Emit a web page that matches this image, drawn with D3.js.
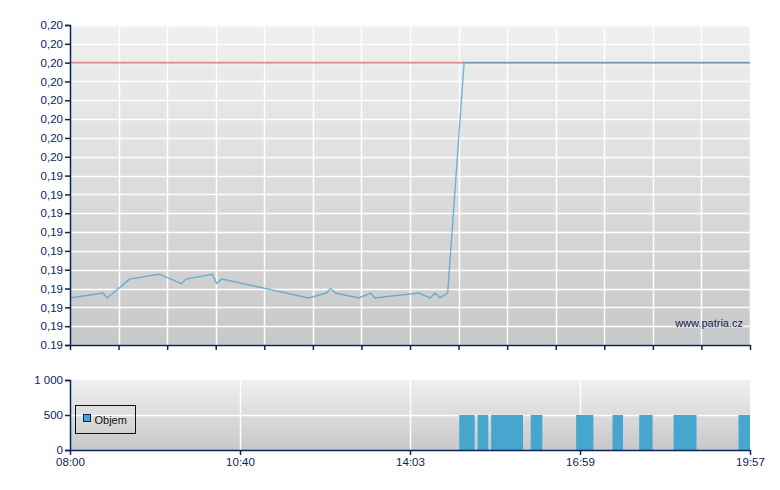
<!DOCTYPE html>
<html>
<head>
<meta charset="utf-8">
<script src="https://cdn.jsdelivr.net/npm/d3@7"></script>
<style>
  body { margin: 0; background: #fff; }
  text { font-family: "Liberation Sans", Arial, sans-serif; }
</style>
</head>
<body>
<svg id="chart" width="780" height="490"></svg>
<script>
// price series (time, value)
var priceTimes = ["08:00","08:31","08:35","08:56","09:24","09:45","09:49","10:14","10:18","10:23",
                  "12:02","12:23","12:28","12:34","13:02","13:16","13:21","14:12","14:24","14:29",
                  "14:34","14:42","14:59","19:57"];
var priceValues = [0.19125,0.19138,0.19125,0.19175,0.19188,0.19163,0.19175,0.19188,0.19163,0.19175,
                   0.19125,0.19138,0.1915,0.19138,0.19125,0.19138,0.19125,0.19138,0.19125,0.19138,
                   0.19125,0.19138,0.1975,0.1975];
var refPrice = 0.1975;

// volume bars (from, to, volume)
var volFrom   = ["14:54","15:13","15:27","16:08","16:55","17:33","18:01","18:37","19:45"];
var volTo     = ["15:10","15:24","16:00","16:20","17:13","17:44","18:15","19:01","19:57"];
var volValues = [500,500,500,500,500,500,500,500,500];

var timeTicks = ["08:00","10:40","14:03","16:59","19:57"];
var priceTicks = [0.19,0.1905,0.191,0.1915,0.192,0.1925,0.193,0.1935,0.194,
                  0.1945,0.195,0.1955,0.196,0.1965,0.197,0.1975,0.198,0.1985];
var priceTickLabels = ["0.19","0,19","0,19","0,19","0,19","0,19","0,19","0,19","0,19",
                       "0,19","0,20","0,20","0,20","0,20","0,20","0,20","0,20","0,20"];
var volTicks = [0, 500, 1000];
var volTickLabels = ["0", "500", "1 000"];

var axisColor = "#0b2457";
var svg = d3.select("#chart");

function toMin(s) {
    var p = s.split(":");
    return +p[0] * 60 + +p[1];
}

function styleAxis(g) {
    g.select(".domain").attr("stroke", axisColor).attr("stroke-width", 1.5);
    g.selectAll(".tick line").attr("stroke", axisColor).attr("stroke-width", 1.5);
    g.selectAll(".tick text").attr("fill", axisColor).style("font-size", "11.5px")
        .style("font-family", "'Liberation Sans', Arial, sans-serif");
}

var x0 = 70, x1 = 750;
var x = d3.scaleLinear()
    .domain(timeTicks.map(toMin))
    .range(timeTicks.map(function(d, i) { return x0 + i * (x1 - x0) / (timeTicks.length - 1); }));

// background gradient
var grad = svg.append("defs").append("linearGradient")
    .attr("id", "bg").attr("x1", 0).attr("y1", 0).attr("x2", 0).attr("y2", 1);
grad.append("stop").attr("offset", "0%").attr("stop-color", "#f0f0f0");
grad.append("stop").attr("offset", "100%").attr("stop-color", "#c8c8c8");

// ---------- price panel ----------
var pTop = { y0: 25, y1: 345 };
var y = d3.scaleLinear().domain([0.19, 0.1985]).range([pTop.y1, pTop.y0]);

var gTop = svg.append("g");
gTop.append("rect")
    .attr("x", x0).attr("y", pTop.y0)
    .attr("width", x1 - x0).attr("height", pTop.y1 - pTop.y0)
    .attr("fill", "url(#bg)");

var gridX = d3.scaleLinear().domain([0, 14]).range([x0, x1]);

gTop.append("g")
    .selectAll("line")
    .data(priceTicks)
    .join("line")
    .attr("x1", x0).attr("x2", x1)
    .attr("y1", function(d) { return Math.round(y(d)) + 0.5; })
    .attr("y2", function(d) { return Math.round(y(d)) + 0.5; })
    .attr("stroke", "#fff").attr("stroke-width", 1.5);

gTop.append("g")
    .selectAll("line")
    .data(d3.range(1, 15))
    .join("line")
    .attr("x1", function(d) { return Math.round(gridX(d)) + 0.5; })
    .attr("x2", function(d) { return Math.round(gridX(d)) + 0.5; })
    .attr("y1", pTop.y0).attr("y2", pTop.y1)
    .attr("stroke", "#fff").attr("stroke-width", 1.5);

// reference line
gTop.append("line")
    .attr("x1", x0).attr("x2", x1)
    .attr("y1", y(refPrice)).attr("y2", y(refPrice))
    .attr("stroke", "#d04040").attr("stroke-opacity", 0.55)
    .attr("stroke-width", 2);

var line = d3.line()
    .x(function(d, i) { return x(toMin(priceTimes[i])); })
    .y(function(d) { return y(d); });

gTop.append("path")
    .datum(priceValues)
    .attr("d", line)
    .attr("fill", "none")
    .attr("stroke", "#3a9fcf")
    .attr("stroke-opacity", 0.7)
    .attr("stroke-width", 1.4);

// axes
gTop.append("g")
    .attr("transform", "translate(" + x0 + ",0)")
    .call(d3.axisLeft(y)
        .tickValues(priceTicks)
        .tickFormat(function(d, i) { return priceTickLabels[i]; })
        .tickSize(5).tickPadding(2))
    .call(styleAxis);

gTop.append("g")
    .attr("transform", "translate(0," + pTop.y1 + ")")
    .call(d3.axisBottom(gridX)
        .tickValues(d3.range(15))
        .tickFormat("")
        .tickSize(5).tickSizeOuter(0))
    .call(styleAxis);

gTop.append("text")
    .attr("x", 743).attr("y", 327)
    .attr("text-anchor", "end")
    .attr("fill", axisColor)
    .style("font-size", "11px")
    .text("www.patria.cz");

// ---------- volume panel ----------
var pBot = { y0: 380, y1: 450 };
var yv = d3.scaleLinear().domain([0, 1000]).range([pBot.y1, pBot.y0]);

var gBot = svg.append("g");
gBot.append("rect")
    .attr("x", x0).attr("y", pBot.y0)
    .attr("width", x1 - x0).attr("height", pBot.y1 - pBot.y0)
    .attr("fill", "url(#bg)");

gBot.append("line")
    .attr("x1", x0).attr("x2", x1)
    .attr("y1", Math.round(yv(500)) + 0.5).attr("y2", Math.round(yv(500)) + 0.5)
    .attr("stroke", "#fff").attr("stroke-width", 1.5);

gBot.append("g")
    .selectAll("line")
    .data(timeTicks.slice(1, -1))
    .join("line")
    .attr("x1", function(d) { return Math.round(x(toMin(d))) + 0.5; })
    .attr("x2", function(d) { return Math.round(x(toMin(d))) + 0.5; })
    .attr("y1", pBot.y0).attr("y2", pBot.y1)
    .attr("stroke", "#fff").attr("stroke-width", 1.5);

gBot.append("g")
    .selectAll("rect")
    .data(volValues)
    .join("rect")
    .attr("x", function(d, i) { return x(toMin(volFrom[i])); })
    .attr("width", function(d, i) { return x(toMin(volTo[i])) - x(toMin(volFrom[i])); })
    .attr("y", function(d) { return yv(d); })
    .attr("height", function(d) { return yv(0) - yv(d); })
    .attr("fill", "#47a6ce");

gBot.append("g")
    .attr("transform", "translate(" + x0 + ",0)")
    .call(d3.axisLeft(yv)
        .tickValues(volTicks)
        .tickFormat(function(d, i) { return volTickLabels[i]; })
        .tickSize(5).tickPadding(2))
    .call(styleAxis);

gBot.append("g")
    .attr("transform", "translate(0," + pBot.y1 + ")")
    .call(d3.axisBottom(x)
        .tickValues(timeTicks.map(toMin))
        .tickFormat(function(d, i) { return timeTicks[i]; })
        .tickSize(5).tickSizeOuter(0).tickPadding(3))
    .call(styleAxis);

// legend
var leg = gBot.append("g").attr("transform", "translate(75.5,405.5)");
leg.append("rect")
    .attr("width", 60).attr("height", 28)
    .attr("fill", "none").attr("stroke", "#111").attr("stroke-width", 1);
leg.append("rect")
    .attr("x", 8).attr("y", 9).attr("width", 7).attr("height", 7)
    .attr("fill", "#47a6ce").attr("stroke", "#0b2457").attr("stroke-width", 1);
leg.append("text")
    .attr("x", 19).attr("y", 18)
    .attr("fill", "#111")
    .style("font-size", "11px")
    .text("Objem");
</script>
</body>
</html>
